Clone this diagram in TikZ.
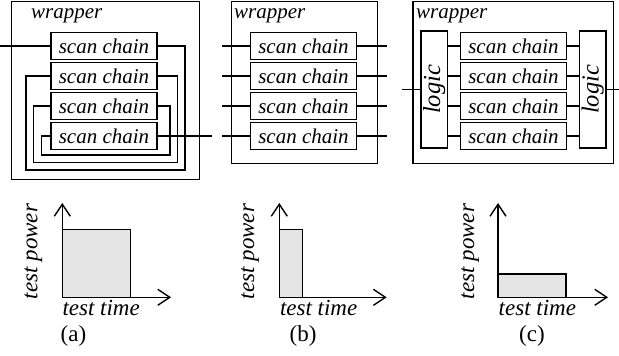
\documentclass[tikz,border=0pt]{standalone}
\usepackage{fontspec}
\setmainfont{Liberation Serif}
\usetikzlibrary{arrows.meta}
\begin{document}
\begin{tikzpicture}[x=1pt,y=-1pt,
  ln/.style={line width=1.4pt},
  wrapbox/.style={draw,line width=1.4pt,anchor=north west,inner sep=0pt},
  chainbox/.style={draw,line width=1.4pt,minimum width=106pt,minimum height=26.5pt,inner sep=0pt,font=\fontsize{21}{24}\selectfont\itshape},
  logicbox/.style={draw,line width=1.4pt,minimum width=26.3pt,minimum height=117pt,inner sep=0pt},
  logictext/.style={rotate=90,inner sep=0pt,font=\fontsize{24.5}{28}\selectfont\itshape},
  wlabel/.style={anchor=base west,inner sep=0pt,font=\fontsize{21}{24}\selectfont\itshape},
  axlabel/.style={inner sep=0pt,font=\fontsize{23}{27}\selectfont\itshape},
  sublabel/.style={anchor=base,inner sep=0pt,font=\fontsize{23}{27}\selectfont},
  axis/.style={line width=1.4pt,-{Straight Barb[length=12pt,width=16pt,line width=1.4pt]}},
  bar/.style={draw,line width=1.4pt,fill=black!10},
]
\useasboundingbox (0,0) rectangle (619,356);

% ---------------- (a) ----------------
\node[wrapbox,minimum width=187.5pt,minimum height=178pt] (wa) at (11,1) {};
\node[wlabel] (wat) at (31,18) {wrapper};
\node[chainbox] (a1) at (104,46) {scan chain};
\node[chainbox] (a2) at (104,76) {scan chain};
\node[chainbox] (a3) at (104,106) {scan chain};
\node[chainbox] (a4) at (104,136) {scan chain};
\coordinate (ain) at (0,46);
\coordinate (aout) at (212,136);
\draw[ln] (ain) -- (a1.west);
\draw[ln] (a1.east) -- (185,46) -- (185,170) -- (26,170) -- (26,76) -- (a2.west);
\draw[ln] (a2.east) -- (177.5,76) -- (177.5,162.5) -- (33.5,162.5) -- (33.5,106) -- (a3.west);
\draw[ln] (a3.east) -- (170,106) -- (170,155) -- (41.5,155) -- (41.5,136) -- (a4.west);
\draw[ln] (a4.east) -- (aout);

% ---------------- (b) ----------------
\node[wrapbox,minimum width=146pt,minimum height=161.7pt] (wb) at (230.7,1) {};
\node[wlabel] (wbt) at (234,18) {wrapper};
\foreach \i/\y in {1/46,2/76,3/106,4/136}{
  \node[chainbox] (b\i) at (303.5,\y) {scan chain};
  \coordinate (bin\i) at (222.3,\y);
  \coordinate (bout\i) at (386.7,\y);
  \draw[ln] (bin\i) -- (b\i.west);
  \draw[ln] (b\i.east) -- (bout\i);
}

% ---------------- (c) ----------------
\node[wrapbox,minimum width=200.7pt,minimum height=161.7pt] (wc) at (412.3,1) {};
\node[wlabel] (wct) at (416,18) {wrapper};
\node[logicbox] (lL) at (434.2,89.5) {};
\node[logictext] (lLt) at (lL.center) {logic};
\node[logicbox] (lR) at (592.7,89.5) {};
\node[logictext] (lRt) at (lR.center) {logic};
\foreach \i/\y in {1/46,2/76,3/106,4/136}{
  \node[chainbox] (c\i) at (513.5,\y) {scan chain};
  \draw[ln] (lL.east |- c\i.west) -- (c\i.west);
  \draw[ln] (c\i.east) -- (lR.west |- c\i.east);
}
\coordinate (cin) at (401.7,89.5);
\coordinate (cout) at (619,89.5);
\draw[ln] (cin) -- (lL.west);
\draw[ln] (lR.east) -- (cout);

% ---------------- graphs ----------------
% (a)
\coordinate (oa) at (62.3,297.3);
\coordinate (ya) at (62.3,203);
\coordinate (xa) at (171,297.3);
\draw[bar] (oa) rectangle (130.7,229.3);
\draw[axis] (oa) -- (ya);
\draw[axis] (oa) -- (xa);
\node[axlabel,rotate=90,anchor=base] (tpa) at (37.5,251.5) {test power};
\node[axlabel,anchor=base west] (tta) at (62.3,315.5) {test time};
\node[sublabel] (sa) at (73.5,341.5) {(a)};

% (b)
\coordinate (ob) at (279.3,297.3);
\coordinate (yb) at (279.3,203);
\coordinate (xb) at (386.7,297.3);
\draw[bar] (ob) rectangle (302.3,229.3);
\draw[axis] (ob) -- (yb);
\draw[axis] (ob) -- (xb);
\node[axlabel,rotate=90,anchor=base] (tpb) at (254,251.5) {test power};
\node[axlabel,anchor=base west] (ttb) at (279.8,315.5) {test time};
\node[sublabel] (sb) at (303,341.5) {(b)};

% (c)
\coordinate (oc) at (498,297.3);
\coordinate (yc) at (498,203);
\coordinate (xc) at (608,297.3);
\draw[bar] (oc) rectangle (566,274);
\draw[axis] (oc) -- (yc);
\draw[axis] (oc) -- (xc);
\node[axlabel,rotate=90,anchor=base] (tpc) at (474,251.5) {test power};
\node[axlabel,anchor=base west] (ttc) at (498.5,315.5) {test time};
\node[sublabel] (sc) at (532,341.5) {(c)};
\end{tikzpicture}
\end{document}
